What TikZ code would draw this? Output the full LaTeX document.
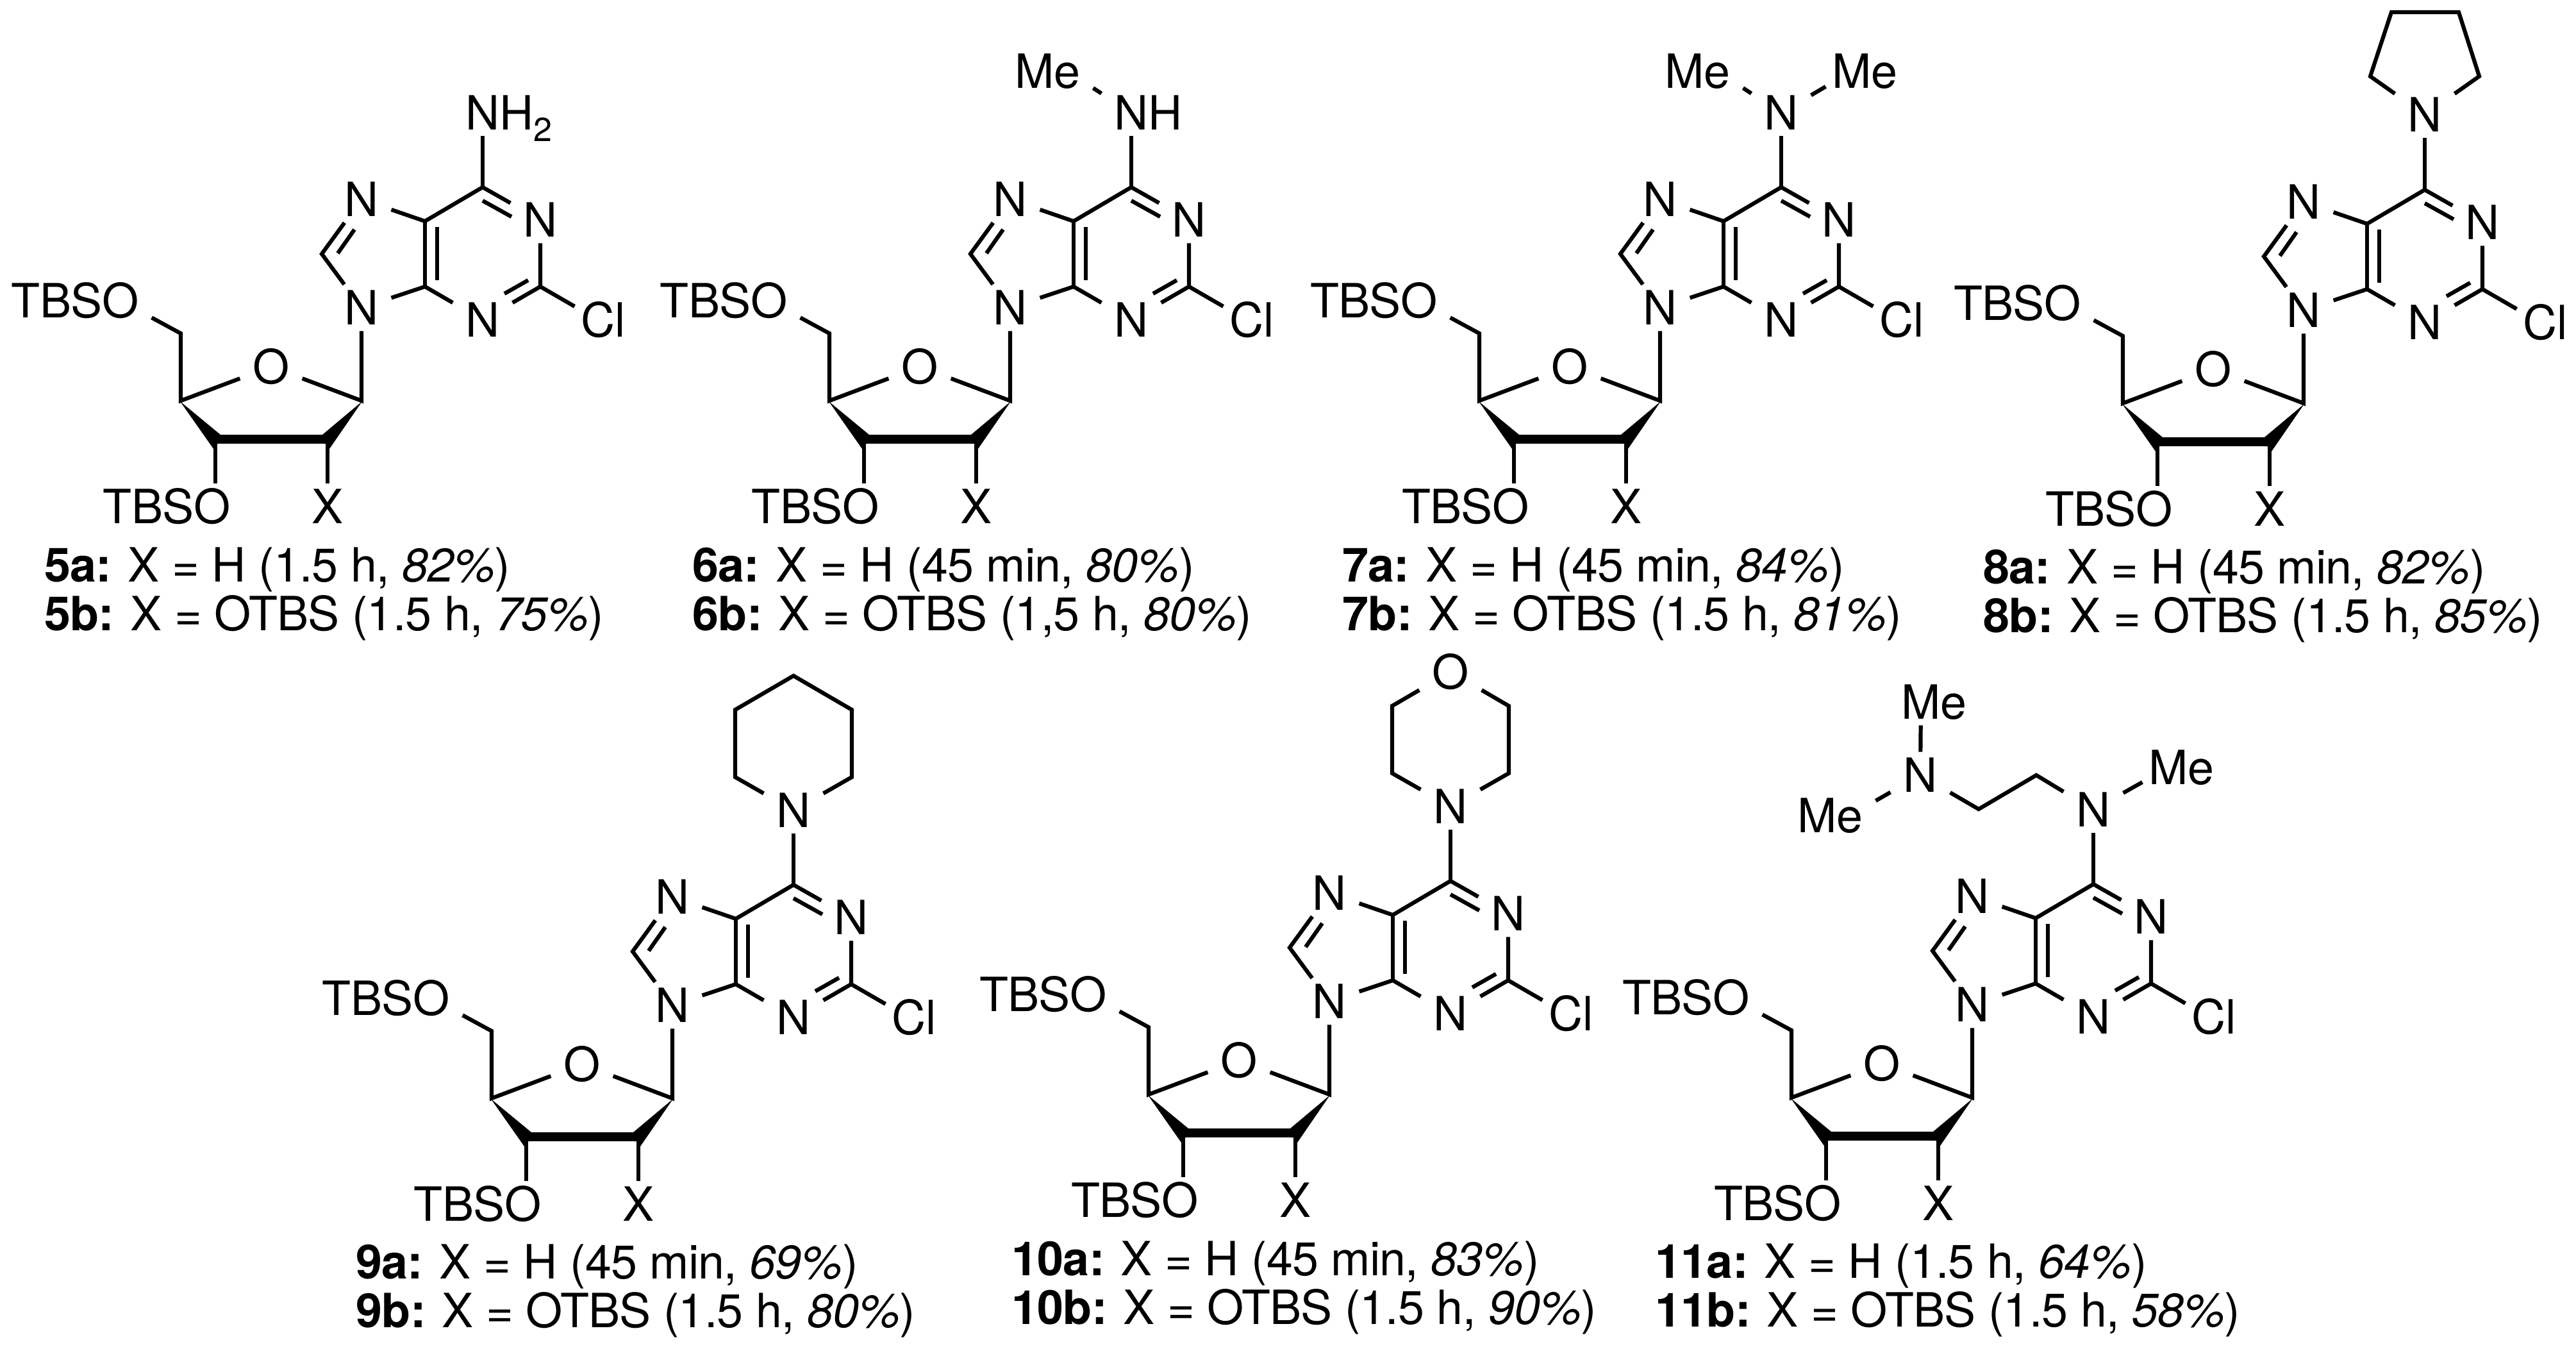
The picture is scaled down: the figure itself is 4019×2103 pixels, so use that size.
\documentclass[tikz,border=0pt]{standalone}
\usepackage{fontspec}
\setmainfont[LetterSpace=-1.2]{TeX Gyre Heros}
\usetikzlibrary{calc}
\tikzset{
  x=0.25pt,y=-0.25pt,
  every node/.style={font=\fontsize{18.4}{20}\selectfont},
  atom/.style={rectangle,inner xsep=5pt,inner ysep=2.5pt,text height=13.2pt,text depth=0pt,outer sep=0pt},
  atomtight/.style={atom,inner xsep=2.5pt},
  bond/.style={draw=black,line width=1.55pt,line cap=butt,line join=miter},
  boldbond/.style={draw=black,line width=3.5pt,line cap=butt},
  capt/.style={anchor=base west,inner sep=0pt},
}
\newcommand{\nucleoside}[3]{%
\begin{scope}[shift={(#2,#3)}]
  \node[atom] (#1N9) at (0,0) {N};
  \node[atom] (#1N7) at (0,-169) {N};
  \node[atom] (#1N1) at (279,-137) {N};
  \node[atom] (#1N3) at (189,19) {N};
  \node[atomtight] (#1Cl) at (369,19) {C\rlap{l}};
  \node[atom] (#1Or) at (-141,92) {O};
  \node[atom] (#1Ot) at (-376,-11) {\llap{TBS}O};
  \node[atom] (#1Ob) at (-233,310) {\llap{TBS}O};
  \node[atom] (#1X) at (-53,310) {X};
  \coordinate (#1C8) at (-62,-84);
  \coordinate (#1C5) at (99,-135);
  \coordinate (#1C4) at (99,-33);
  \coordinate (#1C6) at (189,-188);
  \coordinate (#1C2) at (279,-33);
  \coordinate (#1Ca) at (0,145);
  \coordinate (#1Cb) at (-53,205);
  \coordinate (#1Cc) at (-228,205);
  \coordinate (#1Cd) at (-282,145);
  \coordinate (#1Ce) at (-282,40);
  \draw[bond] (#1N9) -- (#1C8) -- (#1N7);
  \draw[bond] (#1N7) -- (#1C5) -- (#1C6) -- (#1N1);
  \draw[bond] (#1N1) -- (#1C2) -- (#1N3);
  \draw[bond] (#1N3) -- (#1C4) -- (#1N9);
  \draw[bond] (#1C4) -- (#1C5);
  \draw[bond] (#1C2) -- (#1Cl);
  \draw[bond] (#1N9) -- (#1Ca) -- (#1Or);
  \draw[bond] (#1Or) -- (#1Cd) -- (#1Ce) -- (#1Ot);
  \draw[bond] (#1Cc) -- (#1Cc |- #1Ob.north);
  \draw[bond] (#1Cb) -- (#1Cb |- #1X.north);
  \coordinate (#1ia) at (189,-167); \coordinate (#1ib) at (234,-142);
  \coordinate (#1ic) at (260,-43);  \coordinate (#1id) at (223,-22);
  \coordinate (#1ie) at (118,-126); \coordinate (#1if) at (118,-43);
  \coordinate (#1ig) at (-37,-85);  \coordinate (#1ih) at (-11,-122);
  \draw[bond] (#1ia) -- (#1ib);
  \draw[bond] (#1ic) -- (#1id);
  \draw[bond] (#1ie) -- (#1if);
  \draw[bond] (#1ig) -- (#1ih);
  \draw[boldbond] (#1Cc) -- (#1Cb);
  \fill[black] (-283,146) -- (-220,198) -- (-222,212) -- (-225,212) -- (-231,220) -- cycle;
  \fill[black] (1,146) -- (-61,198) -- (-61,212) -- (-56,212) -- (-50,220) -- cycle;
\end{scope}}
\newcommand{\captions}[5]{%
  \node[capt] (#1a) at (#2,#3) {\textbf{#1a:} #4};
  \node[capt] (#1b) at (#2,#3+76) {\textbf{#1b:} #5};}
\newcommand{\capa}[1]{X = H (#1}
\newcommand{\capb}[1]{X = OTBS (#1}
\begin{document}
\begin{tikzpicture}
\useasboundingbox (0,0) rectangle (4019,2103);
% --- 5
\nucleoside{m5}{564}{480}
\node[atom] (m5Nx) at ($(m5C6)+(0,-116)$) {N\rlap{H\raisebox{-4.5pt}{\fontsize{13}{14}\selectfont 2}}};
\draw[bond] (m5C6) -- (m5Nx);
\captions{5}{69}{907}{\capa{1.5 h, \textit{82\%})}}{\capb{1.5 h, \textit{75\%})}}
% --- 6
\nucleoside{m6}{1576}{480}
\node[atom] (m6Nx) at ($(m6C6)+(0,-116)$) {N\rlap{H}};
\node[atom] (m6Me) at ($(m6Nx)+(-100,-65)$) {\llap{M}e};
\draw[bond] (m6C6) -- (m6Nx);
\draw[bond] (m6Nx) -- (m6Me);
\captions{6}{1080}{907}{\capa{45 min, \textit{80\%})}}{\capb{1,5 h, \textit{80\%})}}
% --- 7
\nucleoside{m7}{2590}{480}
\node[atom] (m7Nx) at ($(m7C6)+(0,-116)$) {N};
\node[atom] (m7Ma) at ($(m7Nx)+(-100,-65)$) {\llap{M}e};
\node[atomtight] (m7Mb) at ($(m7Nx)+(110,-65)$) {M\rlap{e}};
\draw[bond] (m7C6) -- (m7Nx);
\draw[bond] (m7Nx) -- (m7Ma);
\draw[bond] (m7Nx) -- (m7Mb);
\captions{7}{2094}{907}{\capa{45 min, \textit{84\%})}}{\capb{1.5 h, \textit{81\%})}}
% --- 8
\nucleoside{m8}{3594}{484}
\node[atom] (m8Nx) at ($(m8C6)+(0,-117)$) {N};
\coordinate (m8Pa) at ($(m8Nx)+(-85,-60)$);
\coordinate (m8Pb) at ($(m8Nx)+(-52,-160)$);
\coordinate (m8Pc) at ($(m8Nx)+(53,-160)$);
\coordinate (m8Pd) at ($(m8Nx)+(85,-60)$);
\draw[bond] (m8C6) -- (m8Nx);
\draw[bond] (m8Nx) -- (m8Pa) -- (m8Pb) -- (m8Pc) -- (m8Pd) -- (m8Nx);
\captions{8}{3094}{910}{\capa{45 min, \textit{82\%})}}{\capb{1.5 h, \textit{85\%})}}
% --- 9
\nucleoside{m9}{1049}{1568}
\node[atom] (m9Nx) at ($(m9C6)+(0,-116)$) {N};
\coordinate (m9Pa) at ($(m9Nx)+(-91,-52)$);
\coordinate (m9Pb) at ($(m9Nx)+(-91,-157)$);
\coordinate (m9Pc) at ($(m9Nx)+(0,-210)$);
\coordinate (m9Pd) at ($(m9Nx)+(91,-157)$);
\coordinate (m9Pe) at ($(m9Nx)+(91,-52)$);
\draw[bond] (m9C6) -- (m9Nx);
\draw[bond] (m9Nx) -- (m9Pa) -- (m9Pb) -- (m9Pc) -- (m9Pd) -- (m9Pe) -- (m9Nx);
\captions{9}{555}{1994}{\capa{45 min, \textit{69\%})}}{\capb{1.5 h, \textit{80\%})}}
% --- 10
\nucleoside{m10}{2074}{1562}
\node[atom] (m10Nx) at ($(m10C6)+(0,-116)$) {N};
\node[atom] (m10Oy) at ($(m10Nx)+(0,-210)$) {O};
\coordinate (m10Pa) at ($(m10Nx)+(-91,-52)$);
\coordinate (m10Pb) at ($(m10Nx)+(-91,-157)$);
\coordinate (m10Pd) at ($(m10Nx)+(91,-157)$);
\coordinate (m10Pe) at ($(m10Nx)+(91,-52)$);
\draw[bond] (m10C6) -- (m10Nx);
\draw[bond] (m10Nx) -- (m10Pa) -- (m10Pb) -- (m10Oy);
\draw[bond] (m10Oy) -- (m10Pd) -- (m10Pe) -- (m10Nx);
\captions{10}{1578}{1989}{\capa{45 min, \textit{83\%})}}{\capb{1.5 h, \textit{90\%})}}
% --- 11
\nucleoside{m11}{3077}{1567}
\node[atom] (m11Nx) at ($(m11C6)+(0,-116)$) {N};
\node[atomtight] (m11Ma) at ($(m11Nx)+(117,-66)$) {M\rlap{e}};
\coordinate (m11Ca) at ($(m11Nx)+(-89,-54)$);
\coordinate (m11Cb) at ($(m11Nx)+(-179,-1)$);
\node[atom] (m11Ny) at ($(m11Nx)+(-270,-54)$) {N};
\node[atomtight] (m11Mb) at ($(m11Ny)+(1,-114)$) {M\rlap{e}};
\node[atom] (m11Mc) at ($(m11Ny)+(-110,63)$) {\llap{M}e};
\draw[bond] (m11C6) -- (m11Nx);
\draw[bond] (m11Nx) -- (m11Ma);
\draw[bond] (m11Nx) -- (m11Ca) -- (m11Cb) -- (m11Ny);
\draw[bond] (m11Ny) -- (m11Mb);
\draw[bond] (m11Ny) -- (m11Mc);
\captions{11}{2582}{1993}{\capa{1.5 h, \textit{64\%})}}{\capb{1.5 h, \textit{58\%})}}
\end{tikzpicture}
\end{document}
